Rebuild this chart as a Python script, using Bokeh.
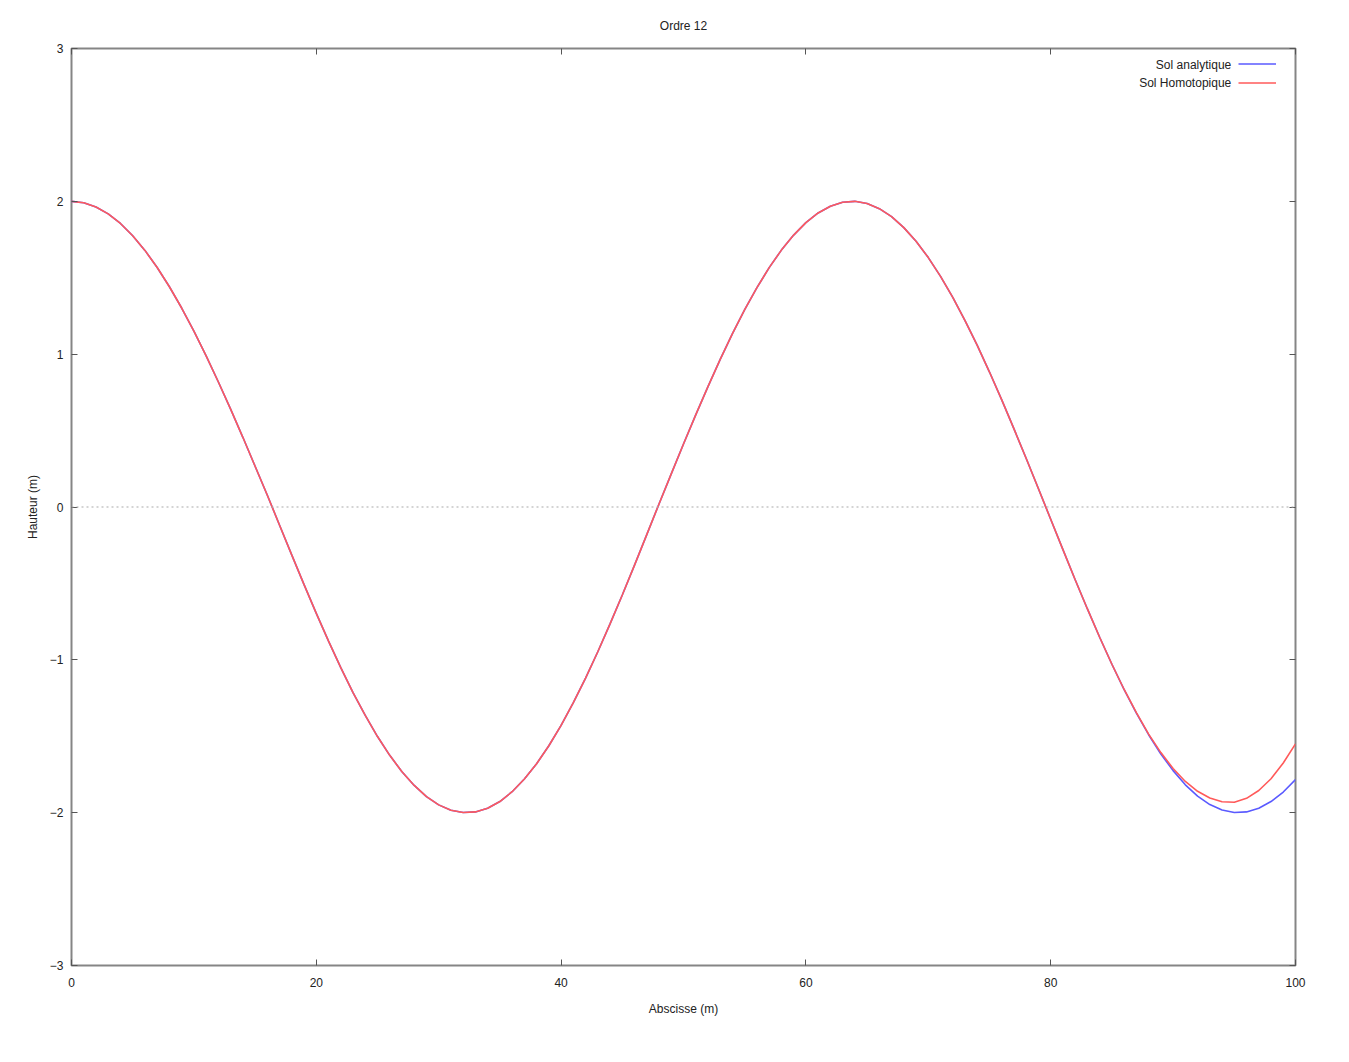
from bokeh.plotting import figure
from bokeh.models import Range1d, FixedTicker, LinearAxis, Span, Legend, LegendItem, Label
from bokeh.embed import file_html
from bokeh.resources import INLINE

# Data (abscissa step of 1 m)
x_vals = list(range(0, 101))
sol_analytique = [
    2.000, 1.991, 1.963, 1.918, 1.855, 1.775, 1.679, 1.567, 1.441, 1.302,
    1.151, 0.989, 0.818, 0.640, 0.456, 0.267, 0.077, -0.119, -0.315, -0.508,
    -0.696, -0.878, -1.051, -1.214, -1.364, -1.502, -1.625, -1.732, -1.822, -1.895,
    -1.949, -1.984, -1.999, -1.995, -1.971, -1.927, -1.863, -1.780, -1.680, -1.562,
    -1.429, -1.280, -1.120, -0.947, -0.765, -0.576, -0.380, -0.181, 0.020, 0.217,
    0.412, 0.603, 0.788, 0.966, 1.134, 1.291, 1.435, 1.566, 1.681, 1.779,
    1.861, 1.924, 1.968, 1.994, 2.000, 1.986, 1.952, 1.900, 1.828, 1.739,
    1.632, 1.509, 1.371, 1.220, 1.057, 0.883, 0.701, 0.511, 0.317, 0.119,
    -0.080, -0.279, -0.476, -0.667, -0.852, -1.029, -1.195, -1.349, -1.490, -1.616,
    -1.725, -1.818, -1.892, -1.947, -1.983, -1.999, -1.995, -1.971, -1.927, -1.865,
    -1.783]
sol_homotopique = [
    2.000, 1.991, 1.963, 1.918, 1.855, 1.775, 1.679, 1.567, 1.441, 1.302,
    1.151, 0.989, 0.818, 0.640, 0.456, 0.267, 0.077, -0.119, -0.315, -0.508,
    -0.696, -0.878, -1.051, -1.214, -1.364, -1.502, -1.625, -1.732, -1.822, -1.895,
    -1.949, -1.984, -1.999, -1.995, -1.971, -1.927, -1.863, -1.780, -1.680, -1.562,
    -1.429, -1.280, -1.120, -0.947, -0.765, -0.576, -0.380, -0.181, 0.020, 0.217,
    0.412, 0.603, 0.788, 0.966, 1.134, 1.291, 1.435, 1.566, 1.681, 1.779,
    1.861, 1.924, 1.968, 1.994, 2.000, 1.986, 1.952, 1.900, 1.828, 1.739,
    1.632, 1.509, 1.371, 1.220, 1.057, 0.883, 0.701, 0.511, 0.317, 0.119,
    -0.080, -0.279, -0.476, -0.667, -0.852, -1.029, -1.194, -1.346, -1.486, -1.607,
    -1.711, -1.796, -1.860, -1.904, -1.929, -1.932, -1.906, -1.855, -1.778, -1.675,
    -1.550]
x_ticks = [0, 20, 40, 60, 80, 100]
y_ticks = [-3, -2, -1, 0, 1, 2, 3]
series_names = ["Sol analytique", "Sol Homotopique"]
title_text = "Ordre 12"

FONT = "Liberation Sans"
TXT = "#222222"
FRAME = "#858585"
TICK = "#555555"

p = figure(width=1341, height=1054, output_backend="svg", toolbar_location=None,
           x_range=Range1d(0, 100), y_range=Range1d(-3, 3),
           min_border_left=71, min_border_right=46, min_border_top=47, min_border_bottom=89,
           x_axis_label="Abscisse (m)", y_axis_label="Hauteur (m)")
p.title.text = title_text
p.title.align = "center"
p.title.text_font = FONT
p.title.text_font_size = "12px"
p.title.text_font_style = "normal"
p.title.text_color = TXT
p.title.standoff = 32

p.xgrid.visible = False
p.ygrid.visible = False
p.outline_line_color = FRAME
p.outline_line_width = 2
p.background_fill_color = "white"
p.border_fill_color = "white"

for ax in (p.xaxis[0], p.yaxis[0]):
    ax.axis_line_color = None
    ax.major_tick_in = 6
    ax.major_tick_out = 0
    ax.minor_tick_line_color = None
    ax.major_tick_line_color = TICK
    ax.major_label_text_font = FONT
    ax.major_label_text_font_size = "12px"
    ax.major_label_text_color = TXT
    ax.axis_label_text_font = FONT
    ax.axis_label_text_font_size = "12px"
    ax.axis_label_text_font_style = "normal"
    ax.axis_label_text_color = TXT

p.xaxis[0].ticker = FixedTicker(ticks=x_ticks)
p.yaxis[0].ticker = FixedTicker(ticks=y_ticks)
p.xaxis[0].major_label_standoff = 12
p.xaxis[0].axis_label_standoff = 12
p.yaxis[0].major_label_standoff = 8
p.yaxis[0].axis_label_standoff = 7

# mirrored ticks on top and right (no labels)
top = LinearAxis(ticker=FixedTicker(ticks=x_ticks),
                 major_label_overrides={t: "" for t in x_ticks},
                 axis_line_color=None, major_tick_in=6, major_tick_out=0,
                 minor_tick_line_color=None, major_tick_line_color=TICK)
right = LinearAxis(ticker=FixedTicker(ticks=y_ticks),
                   major_label_overrides={t: "" for t in y_ticks},
                   axis_line_color=None, major_tick_in=6, major_tick_out=0,
                   minor_tick_line_color=None, major_tick_line_color=TICK)
p.add_layout(top, "above")
p.add_layout(right, "right")

# zero axis
p.add_layout(Span(location=0, dimension="width", line_color="#aaaaaa",
                  line_dash="2 3", line_width=1.2))

r1 = p.line(x_vals, sol_analytique, line_color="#5a5aff", line_width=1.6)
r2 = p.line(x_vals, sol_homotopique, line_color="#ff5a5a", line_width=1.6)

# gnuplot-style key: text right-aligned, sample line to its right
legend = Legend(items=[LegendItem(label=" ", renderers=[r1]),
                       LegendItem(label=" ", renderers=[r2])],
                location=(1167, 873), border_line_color=None,
                background_fill_alpha=0.0, label_text_font_size="1px",
                glyph_width=38, glyph_height=19, label_height=19, label_width=0,
                label_standoff=0, spacing=0, padding=0, margin=0)
p.add_layout(legend)

for name, yk in zip(series_names, [2.895, 2.771]):
    p.add_layout(Label(x=94.75, y=yk, text=name, text_align="right",
                       text_baseline="middle", text_font=FONT,
                       text_font_size="12px", text_color=TXT))

open("out.html", "w").write(file_html(p, INLINE))
